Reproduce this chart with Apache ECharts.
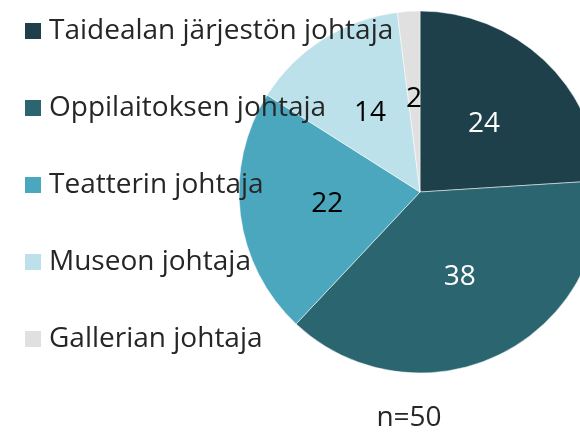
<!DOCTYPE html>
<html><head><meta charset="utf-8">
<script src="https://cdn.jsdelivr.net/npm/echarts@6/dist/echarts.min.js"></script>
<style>html,body{margin:0;padding:0;background:#fff}#c{width:580px;height:434px}</style>
</head><body><div id="c"></div>
<script>
const categories = ['Taidealan järjestön johtaja','Oppilaitoksen johtaja','Teatterin johtaja','Museon johtaja','Gallerian johtaja'];
const values = [24, 38, 22, 14, 2];
const colors = ['#1D404B','#2A6570','#4BA7BD','#BCE1EA','#E0E0E0'];
const labelColors = ['#ffffff','#ffffff','#000000','#000000','#000000'];
const note = 'n=50';
const FONT = 'Open Sans';
const chart = echarts.init(document.getElementById('c'));
chart.setOption({
  animation:false,
  color: colors,
  title:{text:note,left:409,top:404,textAlign:'center',padding:0,textStyle:{fontFamily:FONT,fontSize:28,fontWeight:'normal',color:'#262626'}},
  legend:{orient:'vertical',left:23,top:16,padding:0,itemWidth:18,itemHeight:18,itemGap:47,icon:'rect',
    textStyle:{fontFamily:FONT,fontSize:28,color:'#262626',lineHeight:30,padding:[0,0,0,2]},
    data:categories},
  series:[{type:'pie',center:[420,192],radius:[0,181],startAngle:90,clockwise:true,
    itemStyle:{borderColor:'#ffffff',borderWidth:0.5},
    label:{position:'inside',fontFamily:FONT,fontSize:28,formatter:'{c}'},
    labelLine:{show:false},
    data:categories.map((n,i)=>({name:n,value:values[i],label:{color:labelColors[i]}}))}]
});
</script></body></html>
